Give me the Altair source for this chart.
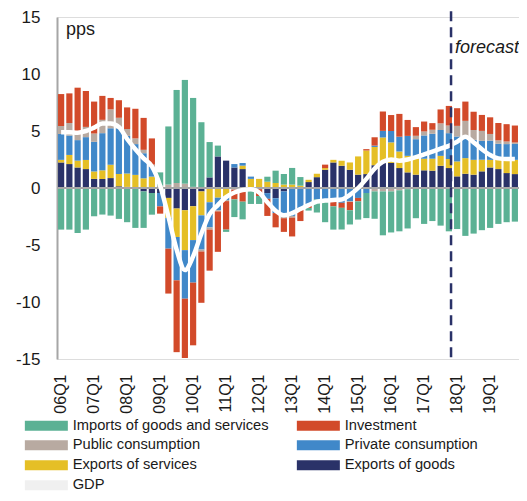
import altair as alt
import pandas as pd

# ---------------- data ----------------
quarters = [f"{y:02d}Q{q}" for y in range(6, 20) for q in range(1, 5)]
q1_labels = [q for q in quarters if q.endswith("Q1")]

series_names = ["Imports of goods and services", "Investment", "Public consumption",
                "Private consumption", "Exports of services", "Exports of goods", "GDP"]
series_colors = ["#5BB194", "#D24A2A", "#B8AAA1", "#4088C9", "#E5BF26", "#2A3268", "#F0F0F0"]

exports_goods = [2.24, 2.1, 1.8, 1.66, 0.8, 0.79, 0.87, 0.15,
                 0.1, 0.05, -0.3, -0.44, -0.44, -0.87, -1.8, -1.95,
                 -1.6, -0.3, 0.93, 2.77, 2.4, 1.8, 1.66, 0,
                 0, -0.45, -0.9, -0.3, 0, 0, 0.52, 0.95,
                 1.6, 2.24, 1.95, 1.6, 1.17, 1.22, 2.0, 2.19,
                 2.2, 1.75, 1.37, 1.17, 1.55, 1.52, 1.95, 1.75,
                 1.02, 1.25, 1.17, 1.46, 1.8, 1.66, 1.31, 1.22]
exports_services = [0.23, 0.8, 0.6, 0.8, 0.65, 0.76, 1.17, 1.08,
                    1.17, 1.1, 0.85, 1.0, 0, -1.75, -2.5, -3.5,
                    -2.97, -2.1, -1.25, -0.85, -0.75, 0, 0.3, 0.8,
                    0.8, 0.55, 0.44, 0.3, 0.3, 0.2, 0.2, 0.3,
                    0.15, 0.23, 0.44, 0.64, 1.6, 2.07, 1.6, 2.24,
                    1.8, 1.45, 1.45, 1.45, 1.02, 1.05, 0.87, 0.79,
                    1.31, 1.37, 1.3, 1.02, 0.67, 0.82, 1.17, 1.25]
private_cons = [2.27, 1.7, 1.8, 2.0, 2.6, 3.26, 3.2, 4.0,
                3.3, 2.7, 2.2, 0.85, -1.17, -2.7, -3.8, -4.26,
                -3.73, -3.0, -2.2, -1.1, -0.3, 0.3, 0.23, 0.2,
                0, -0.5, -1.3, -2.25, -2.45, -1.75, -1.45, -1.0,
                -1.1, -1.17, -1.3, -1.17, -0.87, -0.44, 0.12, 0.58,
                1.0, 1.3, 1.75, 1.66, 2.04, 2.19, 2.27, 2.27,
                2.19, 1.9, 1.75, 1.66, 1.69, 1.4, 1.37, 1.4]
public_cons = [0.7, 1.1, 0.5, 0.9, 0.73, 1.17, 1.66, 0.93,
               0.6, 0.5, 0.3, 0.2, 0.2, 0.3, 0.44, 0.38,
               0.1, -0.17, -0.2, -0.1, -0.1, -0.15, -0.2, -0.2,
               -0.1, 0, 0, -0.1, -0.15, 0, 0, 0,
               0, 0, 0, -0.05, 0, 0, -0.3, -0.3,
               -0.3, -0.2, -0.1, 0.3, 0.35, 0.35, 0.58, 0.67,
               0.93, 1.37, 0.87, 0.87, 0.58, 0.3, 0.23, 0.12]
investment = [2.8, 2.6, 4.1, 3.15, 2.8, 2.1, 1.0, 1.54,
              1.9, 2.6, 2.8, 2.3, -0.64, -3.94, -6.3, -5.2,
              -5.5, -4.5, -3.6, -3.55, -2.5, -0.85, -1.0, 0,
              -0.6, -1.5, -1.25, -1.2, -1.65, -1.15, -0.3, 0,
              0.3, -0.44, -0.44, -0.73, -0.3, 0.12, 0.73, 1.7,
              1.4, 2.0, 1.4, 0.76, 0.87, 0.58, 1.22, 1.72,
              1.55, 1.69, 1.6, 1.4, 1.46, 1.52, 1.52, 1.49]
imports = [-3.65, -3.65, -3.95, -3.65, -2.48, -2.33, -2.42, -2.71,
           -3.0, -3.5, -3.2, -1.9, 1.17, 5.1, 8.16, 9.1,
           7.8, 5.77, 3.1, 0.95, -0.2, -1.55, -1.55, -1.2,
           -0.7, 0.44, 1.08, 0.93, 1.46, 0.76, -0.23, -1.15,
           -1.9, -2.04, -1.9, -1.25, -1.6, -2.2, -2.4, -3.85,
           -3.6, -3.6, -3.45, -2.65, -3.15, -2.9, -3.3, -3.8,
           -3.6, -4.2, -4.0, -3.7, -3.5, -3.15, -3.0, -2.95]
gdp = [4.9, 4.9, 4.85, 5.0, 5.3, 5.65, 5.65, 5.35,
       4.3, 3.4, 2.6, 1.9, 0.2, -2.5, -5.4, -7.2,
       -6.0, -4.0, -2.3, -1.5, -0.8, -0.4, -0.17, -0.1,
       -0.4, -1.25, -2.0, -2.4, -2.2, -1.85, -1.5, -1.2,
       -1.1, -1.05, -1.0, -0.6, 0.0, 0.8, 1.7, 2.3,
       2.5, 2.4, 2.5, 2.7, 2.95, 3.2, 3.45, 3.7,
       4.05, 4.5, 4.0, 3.4, 2.9, 2.6, 2.55, 2.55]

forecast_start = "17Q4"

# stacking order outward from zero
component_series = [
    ("Exports of goods", exports_goods),
    ("Exports of services", exports_services),
    ("Private consumption", private_cons),
    ("Public consumption", public_cons),
    ("Investment", investment),
    ("Imports of goods and services", imports),
]

rows = []
for rank, (name, vals) in enumerate(component_series):
    for q, v in zip(quarters, vals):
        rows.append({"quarter": q, "series": name, "value": v, "rank": rank})
bars_df = pd.DataFrame(rows)
gdp_df = pd.DataFrame({"quarter": quarters, "gdp": gdp})
one_df = pd.DataFrame({"forecast_label": ["forecast"], "unit": ["pps"]})

FONT = "Liberation Sans"
TXT = "#1a1a1a"
AXIS_GRAY = "#a6a6a6"

x_enc = alt.X("quarter:N",
              scale=alt.Scale(domain=quarters, paddingInner=0.25, paddingOuter=0.125),
              axis=alt.Axis(values=q1_labels, labelAngle=-90, title=None, domain=False,
                            ticks=False, grid=False, labelPadding=15, labelFontSize=16,
                            labelColor=TXT, labelFont=FONT, labelOverlap=False))
y_scale = alt.Scale(domain=[-15, 15], nice=False)

bars = alt.Chart(bars_df).mark_bar().encode(
    x=x_enc,
    y=alt.Y("value:Q", stack="zero", scale=y_scale,
            axis=alt.Axis(values=[-15, -10, -5, 0, 5, 10, 15], title=None,
                          domainColor=AXIS_GRAY, domainWidth=2, ticks=False, grid=False,
                          labelPadding=17, labelFontSize=17, labelColor=TXT, labelFont=FONT,
                          labelExpr="datum.value + ''")),
    color=alt.Color("series:N",
                    scale=alt.Scale(domain=series_names, range=series_colors),
                    legend=alt.Legend(title=None, orient="none", legendX=-32, legendY=401,
                                      direction="horizontal", columns=2, columnPadding=27,
                                      rowPadding=4,
                                      symbolType="M-4.3,-1H4.3V1H-4.3Z", symbolSize=100,
                                      symbolStrokeWidth=0, symbolOffset=14, labelOffset=19,
                                      labelFontSize=14.7, labelFont=FONT, labelColor=TXT,
                                      labelLimit=400, symbolOpacity=1)),
    order=alt.Order("rank:Q", sort="ascending"),
)

zero_rule = alt.Chart(one_df).mark_rule(color=AXIS_GRAY, strokeWidth=2).encode(
    y=alt.YDatum(0))

gdp_line = alt.Chart(gdp_df).mark_line(color="white", strokeWidth=4.5,
                                       interpolate="monotone").encode(
    x=alt.X("quarter:N"), y=alt.Y("gdp:Q"))

fc_rule = alt.Chart(one_df).mark_rule(color="#2A3268", strokeWidth=2.5,
                                      strokeDash=[10, 6]).encode(
    x=alt.XDatum(forecast_start, bandPosition=0.85), y=alt.YDatum(15.5),
    y2=alt.datum(-15.3))

fc_text = alt.Chart(one_df).mark_text(align="left", baseline="middle", dx=4,
                                      fontStyle="italic", fontSize=18, font=FONT,
                                      color=TXT).encode(
    x=alt.XDatum(forecast_start, bandPosition=0.85), y=alt.YDatum(12.26),
    text="forecast_label:N")

pps_text = alt.Chart(one_df).mark_text(align="left", baseline="middle", dx=8,
                                       fontSize=18, font=FONT, color=TXT).encode(
    x=alt.XDatum(quarters[0], bandPosition=0), y=alt.YDatum(13.85), text="unit:N")

chart = alt.layer(bars, zero_rule, gdp_line, fc_rule, fc_text, pps_text).properties(
    width=462, height=342,
    autosize=alt.AutoSizeParams(type="none"),
    padding={"left": 49, "top": 9, "right": 0, "bottom": 134},
).configure_view(stroke=None).configure(font=FONT, background="white")

chart.save("out.html", embed_options={"renderer": "svg", "actions": False})
